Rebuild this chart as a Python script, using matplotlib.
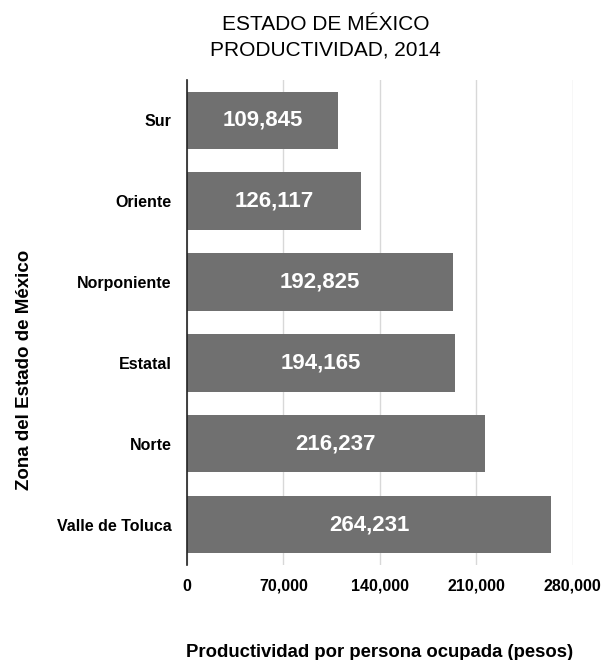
import matplotlib.pyplot as plt
import numpy as np

plt.rcParams['font.family'] = ['Liberation Sans', 'DejaVu Sans']

zonas = ['Valle de Toluca', 'Norte', 'Estatal', 'Norponiente', 'Oriente', 'Sur']
productividad = [264231, 216237, 194165, 192825, 126117, 109845]
xticks = [0, 70000, 140000, 210000, 280000]

fig = plt.figure(figsize=(6.03, 6.6), dpi=100)
ax = fig.add_axes([0.310, 0.144, 0.640, 0.735])

ypos = np.arange(len(zonas))
bars = ax.barh(ypos, productividad, height=0.71, color='#707070', zorder=2)

for b, v in zip(bars, productividad):
    ax.text(v / 2, b.get_y() + b.get_height() / 2, f'{v:,}', color='white',
            fontsize=16, fontweight='bold', ha='center', va='center', zorder=3)

ax.set_yticks(ypos)
ax.set_yticklabels(zonas, fontsize=11.5, fontweight='bold')
ax.set_xticks(xticks)
ax.set_xticklabels([f'{t:,}' for t in xticks], fontsize=11.5, fontweight='bold')
ax.set_xlim(0, 280000)
ax.set_ylim(-0.5, 5.5)

ax.xaxis.grid(True, color='#d8d8d8', linewidth=1, zorder=0)
ax.set_axisbelow(True)
for s in ['top', 'right', 'bottom']:
    ax.spines[s].set_visible(False)
ax.spines['left'].set_color('#222222')
ax.spines['left'].set_linewidth(1.2)
ax.tick_params(axis='both', length=0)
ax.tick_params(axis='x', pad=10)
ax.tick_params(axis='y', pad=11)

fig.text(0.54, 0.963, 'ESTADO DE MÉXICO', ha='center', va='center', fontsize=15)
fig.text(0.54, 0.925, 'PRODUCTIVIDAD, 2014', ha='center', va='center', fontsize=15)
ax.set_xlabel('Productividad por persona ocupada (pesos)', fontsize=13.3,
              fontweight='bold', labelpad=36)
fig.text(0.040, 0.44, 'Zona del Estado de México', rotation=90, ha='center',
         va='center', fontsize=13.5, fontweight='bold')

fig.savefig('out.png', dpi=100)
